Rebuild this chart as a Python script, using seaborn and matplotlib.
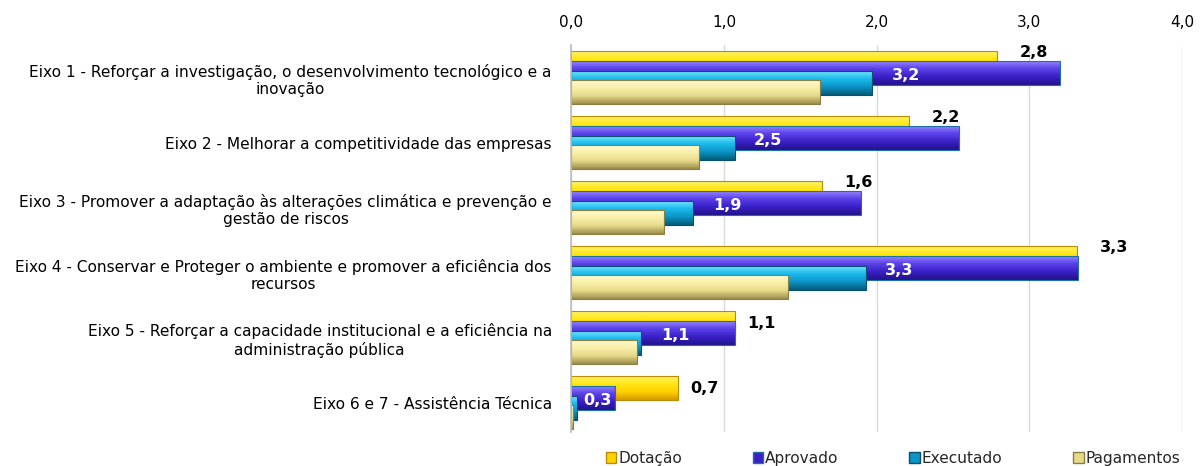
import numpy as np
import pandas as pd
import matplotlib
matplotlib.use("Agg")
import matplotlib.pyplot as plt
import seaborn as sns
from matplotlib.colors import LinearSegmentedColormap
from matplotlib.patches import Rectangle, Patch
from matplotlib.ticker import FuncFormatter

# DATA

categories = [
    "Eixo 1 - Reforçar a investigação, o desenvolvimento tecnológico e a\ninovação",
    "Eixo 2 - Melhorar a competitividade das empresas",
    "Eixo 3 - Promover a adaptação às alterações climática e prevenção e\ngestão de riscos",
    "Eixo 4 - Conservar e Proteger o ambiente e promover a eficiência dos\nrecursos",
    "Eixo 5 - Reforçar a capacidade institucional e a eficiência na\nadministração pública",
    "Eixo 6 e 7 - Assistência Técnica",
]
dotacao = [2.79, 2.21, 1.64, 3.31, 1.07, 0.70]
aprovado = [3.20, 2.54, 1.90, 3.32, 1.07, 0.29]
executado = [1.97, 1.07, 0.80, 1.93, 0.46, 0.04]
pagamentos = [1.63, 0.84, 0.61, 1.42, 0.43, 0.01]
series_names = ["Dotação", "Aprovado", "Executado", "Pagamentos"]
x_ticks = [0, 1, 2, 3, 4]

# STYLE

sns.set_theme(style="white")
plt.rcParams["font.family"] = ["DejaVu Sans"]

gradients = {
    "Dotação": ["#FFF47A", "#FFE818", "#FFD200", "#D49A00"],
    "Aprovado": ["#9A8CFF", "#5C42EA", "#3A20C6", "#24128A"],
    "Executado": ["#7FE6FF", "#1CBCEC", "#0B94C6", "#065C7A"],
    "Pagamentos": ["#FFFCD8", "#FAF0AA", "#E6DA8A", "#9C8E4A"],
}
edges = {
    "Dotação": "#C08A00",
    "Aprovado": "#1E6FA8",
    "Executado": "#05506C",
    "Pagamentos": "#8A7E40",
}
offsets = [-0.225, -0.075, 0.075, 0.225]
bar_h = 0.37

fig, ax = plt.subplots(figsize=(12, 4.66), dpi=100)
fig.subplots_adjust(left=0.476, right=0.985, top=0.903, bottom=0.073)

positions = np.arange(len(categories))
values = [dotacao, aprovado, executado, pagamentos]

for k, (name, vals) in enumerate(zip(series_names, values)):
    n_before = len(ax.patches)
    sns.barplot(
        x=vals,
        y=positions + offsets[k],
        orient="h",
        native_scale=True,
        width=bar_h,
        color=gradients[name][2],
        errorbar=None,
        ax=ax,
    )
    cmap = LinearSegmentedColormap.from_list(name, gradients[name])
    grad = np.linspace(0, 1, 64).reshape(-1, 1)
    for p in ax.patches[n_before:]:
        z = 2 + k
        p.set_zorder(z)
        p.set_edgecolor("none")
        x0, y0 = p.get_x(), p.get_y()
        w, h = p.get_width(), p.get_height()
        if w <= 0:
            continue
        im = ax.imshow(grad, cmap=cmap, aspect="auto", origin="upper",
                       extent=(x0, x0 + w, y0 + h, y0), zorder=z + 0.1,
                       interpolation="bilinear")
        im.set_clip_path(p)
        ax.add_patch(Rectangle((x0, y0), w, h, fill=False,
                               edgecolor=edges[name], linewidth=0.8,
                               zorder=z + 0.2))

# DATA LABELS

for i in positions:
    yd = i + offsets[0]
    xd = dotacao[i] + 0.08
    if aprovado[i] > dotacao[i]:
        yd = yd - bar_h / 2 + 0.02
        xd = dotacao[i] + 0.15
    ax.text(xd, yd, f"{dotacao[i]:.1f}".replace(".", ","),
            ha="left", va="center", fontsize=11.5, fontweight="bold",
            color="black", zorder=10)
    xc = max(aprovado[i] / 2, executado[i] + 0.22)
    xc = min(xc, aprovado[i] - 0.12)
    ax.text(xc, i + offsets[1] + 0.04, f"{aprovado[i]:.1f}".replace(".", ","),
            ha="center", va="center", fontsize=11.5, fontweight="bold",
            color="white", zorder=10)

# AXES

ax.set_xlim(0, 4.0)
ax.set_ylim(5.45, -0.5)
ax.xaxis.tick_top()
ax.set_xticks(x_ticks)
ax.xaxis.set_major_formatter(FuncFormatter(lambda v, pos: f"{v:.1f}".replace(".", ",")))
ax.set_yticks(positions)
ax.set_yticklabels(categories, multialignment="center")
ax.tick_params(axis="x", length=0, pad=11, labelsize=11, colors="black")
ax.tick_params(axis="y", length=0, pad=14, labelsize=11.1, colors="black")
ax.grid(axis="x", color="#D9D9D9", linewidth=1)
ax.set_axisbelow(True)
for s in ["top", "right", "bottom"]:
    ax.spines[s].set_visible(False)
ax.spines["left"].set_color("#BFBFBF")
ax.spines["left"].set_zorder(20)
ax.set_xlabel("")
ax.set_ylabel("")

# LEGEND

handles = [Patch(facecolor=gradients[n][2], edgecolor=edges[n], label=n)
           for n in series_names]
fig.legend(handles=handles, loc="center", bbox_to_anchor=(893 / 1200, 0.017),
           ncol=4, frameon=False, fontsize=11.1, handlelength=0.7,
           handleheight=0.7, handletextpad=0.1, columnspacing=4.6,
           borderpad=0)

plt.savefig("out.png", dpi=100)
